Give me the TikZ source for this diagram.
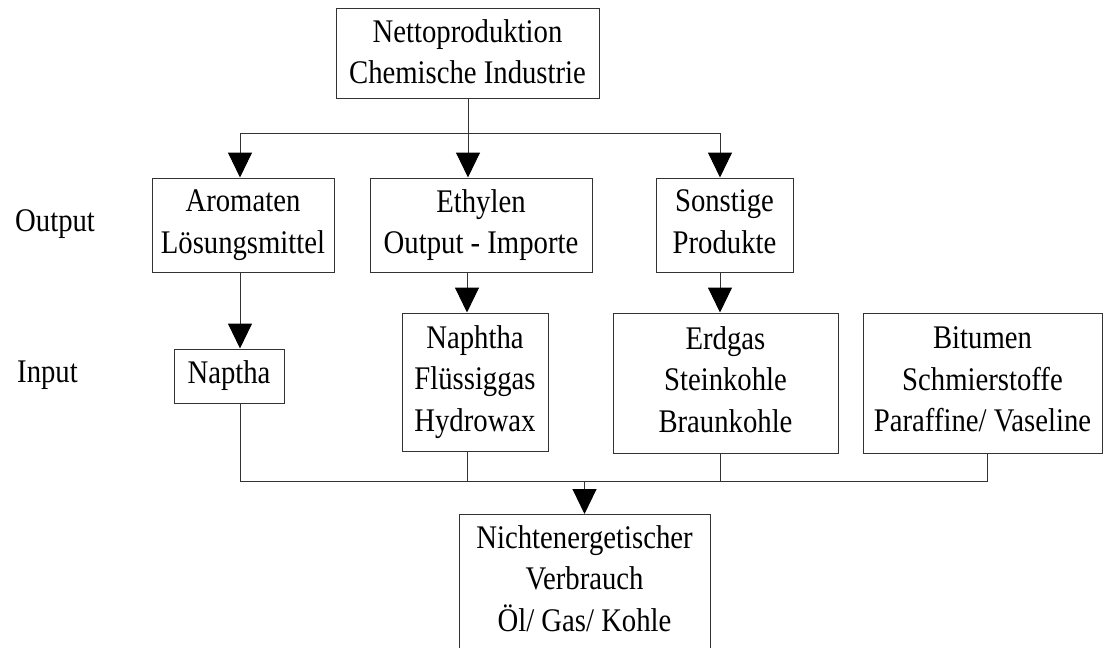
\documentclass[tikz,border=0pt]{standalone}
\usepackage{fontspec}
\setmainfont[FakeStretch=0.87]{Liberation Serif}
\usetikzlibrary{arrows.meta}
\begin{document}
\begin{tikzpicture}[x=1pt,y=-1pt,
  box/.style={draw=black!80,line width=1pt,inner sep=0pt,align=center,
    text depth=7pt,font=\fontsize{33}{41.5}\selectfont},
  lbl/.style={inner sep=0pt,anchor=base west,font=\fontsize{33}{41.5}\selectfont},
  link/.style={draw=black!80,line width=1pt},
  flow/.style={link,-{Triangle[length=25pt,width=24pt,fill=black,color=black]}}]
\useasboundingbox (0,0) rectangle (1109,648);

% top source
\node[box,minimum width=263pt,minimum height=90pt,text depth=3pt] (netto) at (467.5,53)
  {Nettoproduktion\\Chemische Industrie};

% output row
\node[box,minimum width=182pt,minimum height=94pt] (arom) at (243,225)
  {Aromaten\\Lösungsmittel};
\node[box,minimum width=222pt,minimum height=94pt] (ethyl) at (481,225)
  {Ethylen\\Output - Importe};
\node[box,minimum width=137pt,minimum height=94pt] (sonst) at (724.5,225)
  {Sonstige\\Produkte};

% input row
\node[box,minimum width=110pt,minimum height=54pt] (naptha) at (229,376)
  {Naptha};
\node[box,minimum width=146pt,minimum height=138pt] (naphtha) at (475,382)
  {Naphtha\\Flüssiggas\\Hydrowax};
\node[box,minimum width=225pt,minimum height=140pt] (erdgas) at (725.5,383)
  {Erdgas\\Steinkohle\\Braunkohle};
\node[box,minimum width=239pt,minimum height=140pt] (bitumen) at (982.5,383)
  {Bitumen\\Schmierstoffe\\Paraffine/ Vaseline};

% sink, running past the lower edge of the page
\node[box,minimum width=251pt,minimum height=150pt,text depth=22pt,anchor=north]
  (verbrauch) at (584.5,514)
  {Nichtenergetischer\\Verbrauch\\Öl/ Gas/ Kohle};

% row labels
\node[lbl] (lout) at (15,231) {Output};
\node[lbl] (lin) at (17,382) {Input};

% junction points
\coordinate (jt) at (468,133);
\coordinate (ja) at (240,133);
\coordinate (jc) at (720,133);
\coordinate (ba) at (240,481);
\coordinate (bb) at (467,481);
\coordinate (bc) at (720,481);
\coordinate (bd) at (987,481);
\coordinate (bm) at (584.5,481);

% distribution from the top box
\draw[link] (netto.south -| jt) -- (jt);
\draw[link] (ja) -- (jc);
\draw[flow] (ja) -- (arom.north -| ja);
\draw[flow] (jt) -- (ethyl.north -| jt);
\draw[flow] (jc) -- (sonst.north -| jc);

% output to input
\draw[flow] (arom.south -| ja) -- (naptha.north -| ja);
\draw[flow] (ethyl.south -| bb) -- (naphtha.north -| bb);
\draw[flow] (sonst.south -| bc) -- (erdgas.north -| bc);

% collection into the sink
\draw[link] (naptha.south -| ba) -- (ba) -- (bd) -- (bitumen.south -| bd);
\draw[link] (naphtha.south -| bb) -- (bb);
\draw[link] (erdgas.south -| bc) -- (bc);
\draw[flow] (bm) -- (verbrauch.north -| bm);
\end{tikzpicture}
\end{document}
